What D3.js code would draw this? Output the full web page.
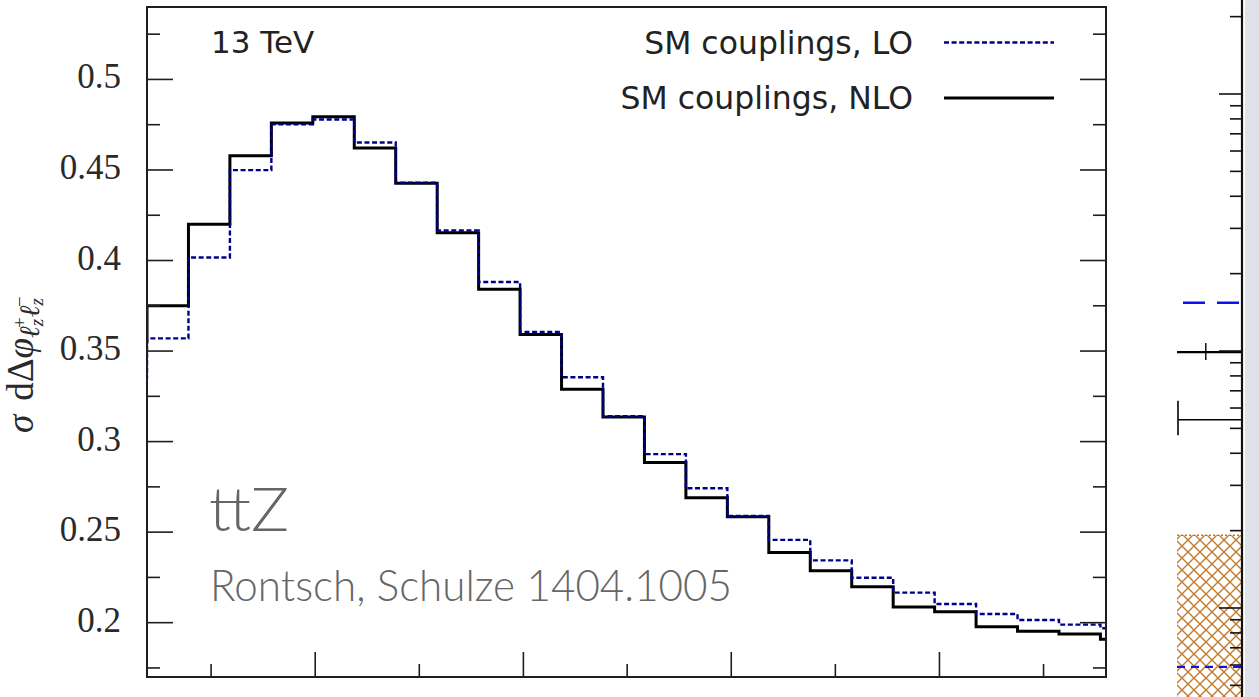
<!DOCTYPE html>
<html><head><meta charset="utf-8">
<script src="https://cdn.jsdelivr.net/npm/d3@7"></script>
<style>
body{margin:0;background:#fff;}
svg{display:block;}
</style>
</head><body>
<svg id="chart" width="1259" height="697"></svg>
<script>
// Normalised azimuthal separation of the Z-decay leptons, ttZ at 13 TeV
const binStart = -0.1358;   // first bin begins just left of the plotted range
const binWidth = 0.1358;
const smLO  = [0.3356, 0.3570, 0.4017, 0.4499, 0.4752, 0.4779, 0.4652, 0.4430, 0.4166, 0.3881,
               0.3605, 0.3355, 0.3140, 0.2931, 0.2742, 0.2589, 0.2457, 0.2344, 0.2248, 0.2166,
               0.2103, 0.2048, 0.2015, 0.1989, 0.1969];
const smNLO = [0.3550, 0.3750, 0.4200, 0.4578, 0.4760, 0.4794, 0.4621, 0.4426, 0.4153, 0.3841,
               0.3592, 0.3289, 0.3136, 0.2885, 0.2690, 0.2585, 0.2388, 0.2287, 0.2199, 0.2087,
               0.2061, 0.1978, 0.1952, 0.1938, 0.1908];

const yMajorTicks = [0.2, 0.25, 0.3, 0.35, 0.4, 0.45, 0.5];
const yMinorTicks = [0.175, 0.225, 0.275, 0.325, 0.375, 0.425, 0.475, 0.525];
const yTickLabels = ["0.2", "0.25", "0.3", "0.35", "0.4", "0.45", "0.5"];
const xMajorTicks = [0.551, 1.233, 1.914, 2.596];
const xMinorTicks = [0.210, 0.892, 1.573, 2.255, 2.937];

const legendLabels = ["SM couplings, LO", "SM couplings, NLO"];

// neighbouring panel (log scale), only its last bin is in view
const rpLower = [0.9, 1.0];
const rpBlueUpper = 1.54;
const rpBlack = 0.99, rpBlackErr = [0.923, 1.074];
const rpBlackLow = 0.54, rpBlackLowErr = [0.47, 0.64];
const rpBandTop = 0.192, rpBandBottom = 0.01;
const rpBlueLower = 0.059;

const svg = d3.select("#chart");
const L = 147, R = 1106, T = 7, B = 677;

const x = d3.scaleLinear().domain([0, Math.PI]).range([L, R]);
const y = d3.scaleLinear().domain([0.17, 0.54]).range([B, T]);

svg.append("defs").append("clipPath").attr("id", "frameClip")
  .append("rect").attr("x", L).attr("y", T).attr("width", R - L).attr("height", B - T);

// step outlines
function stepPoints(vals) {
  const pts = vals.map((v, i) => [binStart + i * binWidth, v]);
  pts.push([binStart + vals.length * binWidth, vals[vals.length - 1]]);
  return pts;
}
const stepLine = d3.line().x(d => x(d[0])).y(d => y(d[1])).curve(d3.curveStepAfter);

const plot = svg.append("g").attr("clip-path", "url(#frameClip)");
plot.append("path").attr("d", stepLine(stepPoints(smNLO)))
  .attr("fill", "none").attr("stroke", "#000").attr("stroke-width", 3);
plot.append("path").attr("d", stepLine(stepPoints(smLO)))
  .attr("fill", "none").attr("stroke", "#00008b").attr("stroke-width", 2.4)
  .attr("stroke-dasharray", "5,2.6");

// frame
svg.append("rect").attr("x", L).attr("y", T).attr("width", R - L).attr("height", B - T)
  .attr("fill", "none").attr("stroke", "#1e1e1e").attr("stroke-width", 2);

// y ticks, inward on both sides
const tk = svg.append("g").attr("stroke", "#1e1e1e").attr("stroke-width", 1.6);
yMajorTicks.forEach(v => {
  tk.append("line").attr("x1", L).attr("x2", L + 26).attr("y1", y(v)).attr("y2", y(v));
  tk.append("line").attr("x1", R).attr("x2", R - 26).attr("y1", y(v)).attr("y2", y(v));
});
yMinorTicks.forEach(v => {
  tk.append("line").attr("x1", L).attr("x2", L + 13).attr("y1", y(v)).attr("y2", y(v));
  tk.append("line").attr("x1", R).attr("x2", R - 13).attr("y1", y(v)).attr("y2", y(v));
});
xMajorTicks.forEach(v => {
  tk.append("line").attr("x1", x(v)).attr("x2", x(v)).attr("y1", B).attr("y2", B - 25);
});
xMinorTicks.forEach(v => {
  tk.append("line").attr("x1", x(v)).attr("x2", x(v)).attr("y1", B).attr("y2", B - 13);
});

// y tick labels
svg.append("g").selectAll("text").data(yMajorTicks).join("text")
  .attr("x", 121).attr("y", d => y(d) + 9)
  .attr("text-anchor", "end")
  .attr("font-family", "'Liberation Serif', 'DejaVu Serif', serif")
  .attr("font-size", 35).attr("fill", "#2a2a2a")
  .text((d, i) => yTickLabels[i]);

// y axis title: lower row of the (1/σ) dσ/dΔφ fraction, rotated
const yt = svg.append("g").attr("transform", "translate(33,433) rotate(-90)")
  .attr("font-family", "'Liberation Serif', 'DejaVu Serif', serif")
  .attr("font-size", 37).attr("fill", "#2a2a2a");
const den = yt.append("text").attr("x", 0).attr("y", 0);
den.append("tspan").attr("font-style", "italic").text("σ");
den.append("tspan").attr("dx", 14).text("d");
den.append("tspan").text("Δ");
den.append("tspan").attr("font-style", "italic").text("φ");
den.append("tspan").attr("font-style", "italic").attr("font-size", 28).attr("dy", 6).text("ℓ");
den.append("tspan").attr("font-style", "italic").attr("font-size", 19).attr("dy", 4).text("z");
den.append("tspan").attr("font-size", 19).attr("dy", -17).attr("dx", -9).text("+");
den.append("tspan").attr("font-style", "italic").attr("font-size", 28).attr("dy", 13).text("ℓ");
den.append("tspan").attr("font-style", "italic").attr("font-size", 19).attr("dy", 4).text("z");
den.append("tspan").attr("font-size", 19).attr("dy", -17).attr("dx", -9).text("−");

// energy label
svg.append("text").attr("x", 211).attr("y", 52.5)
  .attr("font-family", "'DejaVu Sans', sans-serif").attr("font-size", 31)
  .attr("fill", "#222").text("13 TeV");

// legend
const legY = [42.5, 98];
legendLabels.forEach((lab, i) => {
  svg.append("text").attr("x", 913).attr("y", legY[i] + 11)
    .attr("text-anchor", "end")
    .attr("font-family", "'DejaVu Sans', sans-serif").attr("font-size", 31.5)
    .attr("fill", "#222").text(lab);
});
svg.append("line").attr("x1", 944).attr("x2", 1054).attr("y1", legY[0]).attr("y2", legY[0])
  .attr("stroke", "#00008b").attr("stroke-width", 2.4).attr("stroke-dasharray", "5,2.6");
svg.append("line").attr("x1", 944).attr("x2", 1054).attr("y1", legY[1]).attr("y2", legY[1])
  .attr("stroke", "#000").attr("stroke-width", 3);

// process / reference stamp
svg.append("text").attr("x", 209).attr("y", 531)
  .attr("font-family", "Lato, 'Open Sans', sans-serif").attr("font-weight", 300)
  .attr("font-size", 62).attr("fill", "#666")
  .attr("textLength", 80).attr("lengthAdjust", "spacingAndGlyphs").text("ttZ");
svg.append("text").attr("x", 210).attr("y", 601)
  .attr("font-family", "Lato, 'Open Sans', sans-serif").attr("font-weight", 300)
  .attr("font-size", 44).attr("fill", "#666")
  .attr("textLength", 522).attr("lengthAdjust", "spacingAndGlyphs")
  .text("Rontsch, Schulze 1404.1005");

// ---- neighbouring panel edge ----
const xr = d3.scaleLinear().domain(rpLower).range([1177, 1241]);
const yr = d3.scaleLog().domain([0.1, 10]).range([608, 94]);

const defs = svg.select("defs");
const pat = defs.append("pattern").attr("id", "xhatch").attr("patternUnits", "userSpaceOnUse")
  .attr("width", 12).attr("height", 12);
pat.append("path").attr("d", "M0,0 L12,12 M12,0 L0,12 M-1,11 L1,13 M11,-1 L13,1")
  .attr("stroke", "#c47a2c").attr("stroke-width", 1.4);

svg.append("rect").attr("x", xr(rpLower[0])).attr("y", yr(rpBandTop))
  .attr("width", xr(rpLower[1]) - xr(rpLower[0]))
  .attr("height", yr(rpBandBottom) - yr(rpBandTop))
  .attr("fill", "url(#xhatch)");
svg.append("line").attr("x1", xr(rpLower[0])).attr("x2", xr(rpLower[1]))
  .attr("y1", yr(rpBandTop)).attr("y2", yr(rpBandTop))
  .attr("stroke", "#c47a2c").attr("stroke-width", 1.5).attr("stroke-dasharray", "2,2");

svg.append("line").attr("x1", xr(rpLower[0]) + 6).attr("x2", xr(rpLower[1]))
  .attr("y1", yr(rpBlueUpper)).attr("y2", yr(rpBlueUpper))
  .attr("stroke", "#1010ee").attr("stroke-width", 2.6).attr("stroke-dasharray", "22,12");
svg.append("line").attr("x1", xr(rpLower[0])).attr("x2", xr(rpLower[1]))
  .attr("y1", yr(rpBlueLower)).attr("y2", yr(rpBlueLower))
  .attr("stroke", "#1010ee").attr("stroke-width", 2.2).attr("stroke-dasharray", "8,6");

svg.append("line").attr("x1", xr(rpLower[0])).attr("x2", xr(rpLower[1]))
  .attr("y1", yr(rpBlack)).attr("y2", yr(rpBlack))
  .attr("stroke", "#000").attr("stroke-width", 2.4);
svg.append("line").attr("x1", xr(0.945)).attr("x2", xr(0.945))
  .attr("y1", yr(rpBlackErr[0])).attr("y2", yr(rpBlackErr[1]))
  .attr("stroke", "#000").attr("stroke-width", 1.4);
svg.append("line").attr("x1", xr(rpLower[0]) + 1).attr("x2", xr(rpLower[1]))
  .attr("y1", yr(rpBlackLow)).attr("y2", yr(rpBlackLow))
  .attr("stroke", "#000").attr("stroke-width", 1.6);
svg.append("line").attr("x1", xr(rpLower[0]) + 1).attr("x2", xr(rpLower[0]) + 1)
  .attr("y1", yr(rpBlackLowErr[0])).attr("y2", yr(rpBlackLowErr[1]))
  .attr("stroke", "#000").attr("stroke-width", 1.6);

// log ticks on the panel's right edge
const rTicks = d3.scaleLog().domain([0.045, 23]).ticks();
const rtk = svg.append("g").attr("stroke", "#111").attr("stroke-width", 1.6);
rTicks.forEach(v => {
  const major = Math.abs(Math.log10(v) - Math.round(Math.log10(v))) < 1e-6;
  rtk.append("line").attr("x1", 1241).attr("x2", 1241 - (major ? 22 : 11))
    .attr("y1", yr(v)).attr("y2", yr(v));
});
svg.append("line").attr("x1", 1242).attr("x2", 1242).attr("y1", 0).attr("y2", 697)
  .attr("stroke", "#111").attr("stroke-width", 2.2);
svg.append("rect").attr("x", 1245).attr("y", 0).attr("width", 14).attr("height", 697)
  .attr("fill", "#dfe3e9");
</script>
</body></html>
